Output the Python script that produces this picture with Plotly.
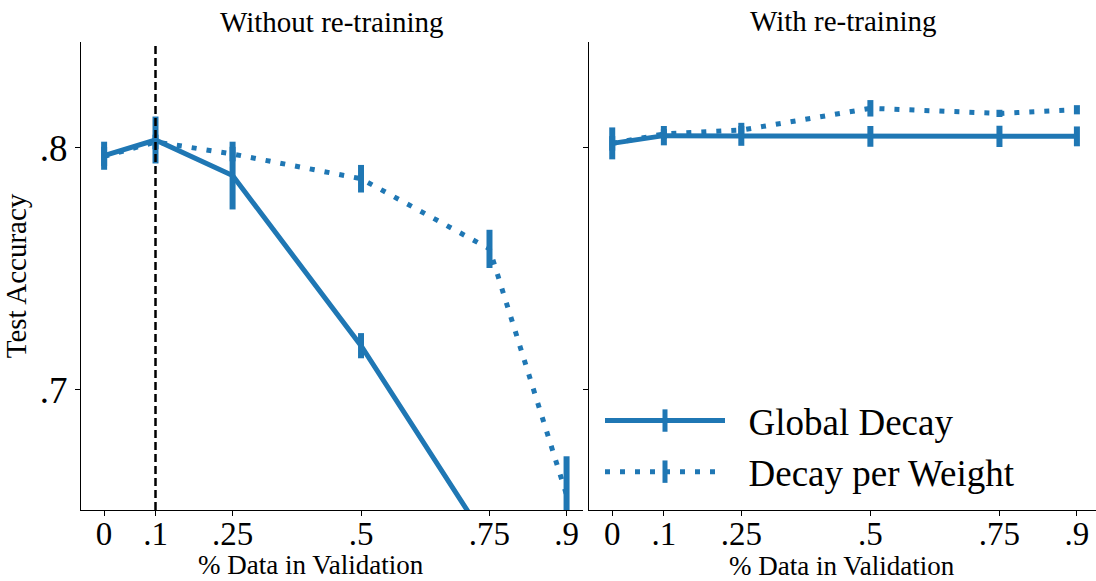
import plotly.graph_objects as go

# ---- data ----
x_vals = [0, 0.1, 0.25, 0.5, 0.75, 0.9]
x_ticktext = ["0", ".1", ".25", ".5", ".75", ".9"]
y_tickvals = [0.7, 0.8]
y_ticktext = [".7", ".8"]
chosen_split = 0.1

global_no_retrain = [0.7968, 0.8033, 0.7886, 0.7183, 0.636, 0.59]
global_no_retrain_err = [0.0058, 0.0097, 0.014, 0.0052, 0.005, 0.005]
perweight_no_retrain = [0.7965, 0.8025, 0.7975, 0.7873, 0.7583, 0.6566]
perweight_no_retrain_err = [0.004, 0.003, 0.003, 0.0057, 0.0079, 0.016]

global_retrain = [0.8019, 0.8051, 0.8050, 0.8048, 0.8048, 0.8048]
global_retrain_err = [0.0066, 0.0040, 0.0041, 0.0043, 0.0044, 0.0041]
perweight_retrain = [0.8019, 0.8058, 0.8074, 0.8164, 0.8143, 0.8158]
perweight_retrain_err = [0.003, 0.002, 0.003, 0.0034, 0.0015, 0.0019]

series_names = ["Global Decay", "Decay per Weight"]
panel_titles = ["Without re-training", "With re-training"]
x_title = "% Data in Validation"
y_title = "Test Accuracy"

# ---- style ----
BLUE = "#1f77b4"
DOT = "5px,10px"
FONT = "Liberation Serif"
W, H = 1096, 581


def err(vals):
    return dict(type="data", array=vals, visible=True, color=BLUE, thickness=6, width=0)


fig = go.Figure()
panels = [
    ("x", "y", global_no_retrain, global_no_retrain_err, perweight_no_retrain, perweight_no_retrain_err),
    ("x2", "y2", global_retrain, global_retrain_err, perweight_retrain, perweight_retrain_err),
]
for xa, ya, g, ge, p, pe in panels:
    fig.add_trace(go.Scatter(x=x_vals, y=p, error_y=err(pe), mode="lines",
                             line=dict(color=BLUE, width=5, dash=DOT),
                             xaxis=xa, yaxis=ya, showlegend=False))
    fig.add_trace(go.Scatter(x=x_vals, y=g, error_y=err(ge), mode="lines",
                             line=dict(color=BLUE, width=5),
                             xaxis=xa, yaxis=ya, showlegend=False))

# legend entries
for name, dash in zip(series_names, ["solid", DOT]):
    fig.add_trace(go.Scatter(x=[None], y=[None], mode="lines+markers",
                             name="\u00a0\u00a0" + name,
                             line=dict(color=BLUE, width=5, dash=dash),
                             marker=dict(symbol="line-ns", size=38, color=BLUE,
                                         line=dict(color=BLUE, width=6)),
                             xaxis="x2", yaxis="y2"))

fig.add_shape(type="line", x0=chosen_split, x1=chosen_split, y0=0, y1=1,
              xref="x", yref="y domain",
              line=dict(color="black", width=2.5, dash="8px,4px"))

xdom1 = [81 / W, 583 / W]
xdom2 = [589 / W, 1.0]
ydom = [1 - 510 / H, 1 - 42 / H]

common_x = dict(tickvals=x_vals, ticktext=x_ticktext, ticks="outside", ticklen=5,
                tickwidth=1, tickcolor="black", showline=True, linecolor="black",
                linewidth=1.3, showgrid=False, zeroline=False,
                tickfont=dict(size=33, family=FONT, color="black"),
                ticklabelstandoff=-11,
                automargin=False)
common_y = dict(tickvals=y_tickvals, ticktext=y_ticktext, ticks="outside", ticklen=5,
                tickwidth=1, tickcolor="black", showline=True, linecolor="black",
                linewidth=1, showgrid=False, zeroline=False, domain=ydom,
                range=[0.6504, 0.8438],
                tickfont=dict(size=37, family=FONT, color="black"), automargin=False)

annots = []
for t, dom, ty in zip(panel_titles, [xdom1, xdom2], [22, 21]):
    annots.append(dict(text=t, x=(dom[0] + dom[1]) / 2, y=1 - ty / H, xanchor="center",
                       yanchor="middle", xref="paper", yref="paper", showarrow=False,
                       font=dict(size=29, family=FONT)))
for cx, cy in [(311, 565), (842, 566)]:
    annots.append(dict(text=x_title, x=cx / W, y=1 - cy / H, xanchor="center",
                       yanchor="middle", xref="paper", yref="paper", showarrow=False,
                       font=dict(size=27, family=FONT)))

fig.update_layout(
    width=W, height=H,
    margin=dict(l=0, r=0, t=0, b=0),
    plot_bgcolor="white", paper_bgcolor="white",
    font=dict(family=FONT, color="black"),
    xaxis=dict(domain=xdom1, range=[-0.045, 0.932], anchor="y", **common_x),
    xaxis2=dict(domain=xdom2, range=[-0.045, 0.937], anchor="y2", **common_x),
    yaxis=dict(anchor="x", title=dict(text=y_title, font=dict(size=29, family=FONT), standoff=8),
               **common_y),
    yaxis2=dict(anchor="x2", matches="y", showticklabels=False, **common_y),
    legend=dict(x=600 / W, y=1 - 390 / H, xanchor="left", yanchor="top",
                font=dict(size=37, family=FONT, color="black"),
                itemwidth=120, bgcolor="rgba(0,0,0,0)", tracegroupgap=0),
    annotations=annots,
)

fig.write_html("out.html")
